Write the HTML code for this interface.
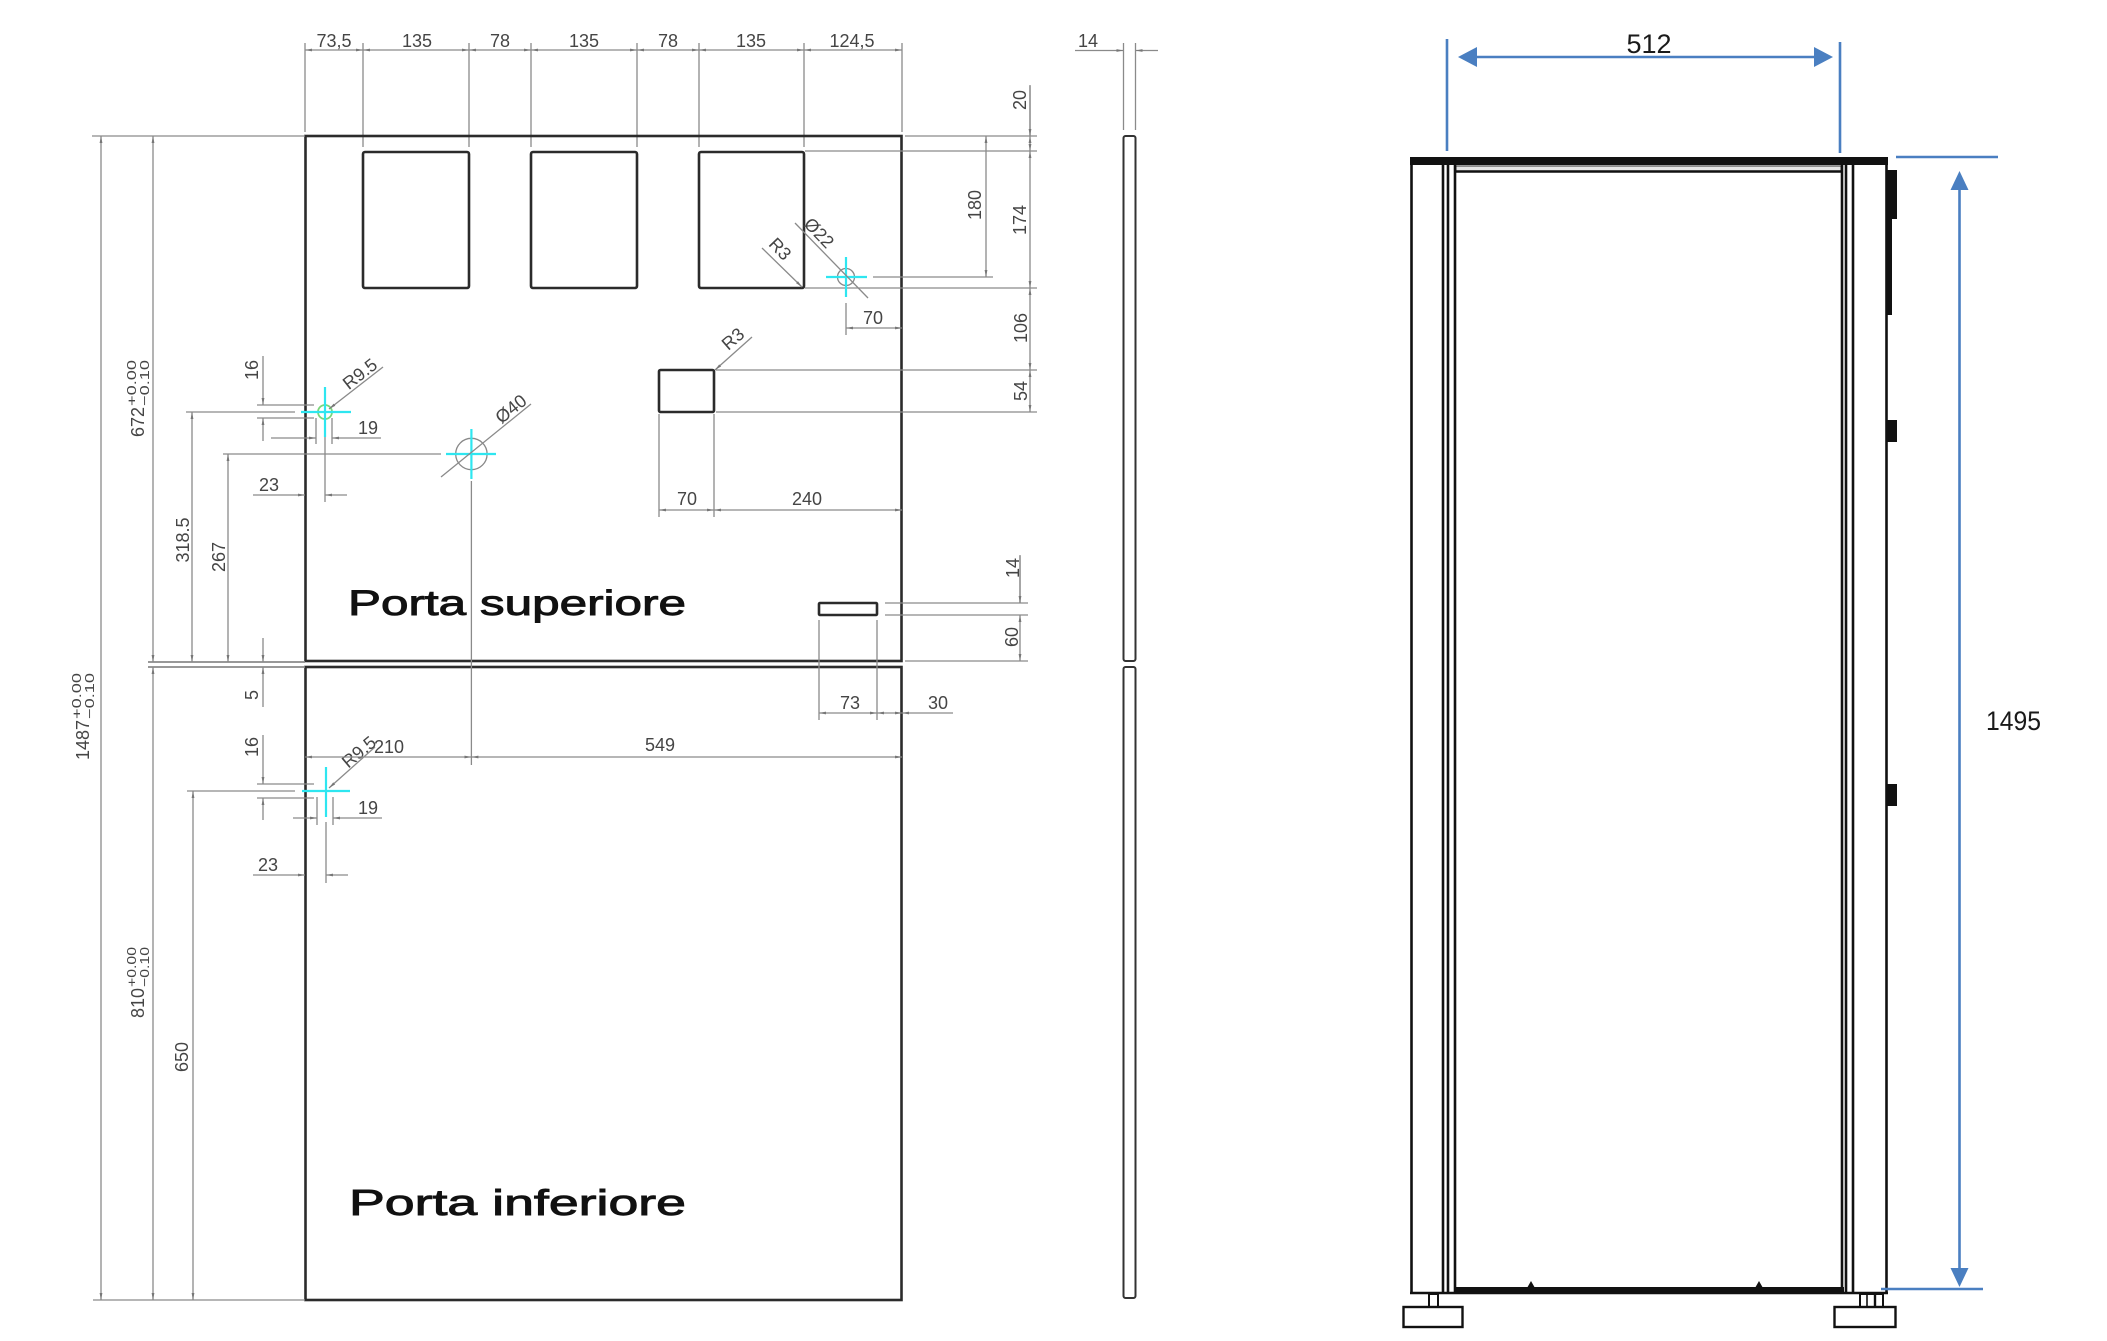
<!DOCTYPE html>
<html><head><meta charset="utf-8"><style>
html,body{margin:0;padding:0;background:#fff;}
svg{display:block;}
.d{stroke:#8a8a8a;stroke-width:1.3;fill:none;}
.dm{stroke:#8a8a8a;stroke-width:1.3;fill:none;marker-start:url(#a);marker-end:url(#a);}
.de{stroke:#8a8a8a;stroke-width:1.3;fill:none;marker-end:url(#a);}
.o{stroke:#2b2b2b;stroke-width:2.6;fill:none;}
.t{font-family:"Liberation Sans",sans-serif;font-size:18px;fill:#454545;}
.tt{font-family:"Liberation Sans",sans-serif;font-size:13px;fill:#454545;}
.c{stroke:#2ee6f0;stroke-width:2.2;fill:none;}
.k{stroke:#111;stroke-width:2.6;fill:none;}
.b{stroke:#4a7fc1;stroke-width:2.6;fill:none;}
.lab{font-family:"Liberation Sans",sans-serif;fill:#111;stroke:#111;stroke-width:0.9;}
</style></head><body>
<svg width="2107" height="1341" viewBox="0 0 2107 1341" xmlns="http://www.w3.org/2000/svg">
<defs>
<marker id="a" viewBox="0 0 10 4" refX="10" refY="2" markerWidth="7" markerHeight="3" markerUnits="userSpaceOnUse" orient="auto-start-reverse"><path d="M0,0L10,2L0,4z" fill="#777"/></marker>
</defs>
<rect width="2107" height="1341" fill="#fff"/>

<!-- ===== TOP CHAIN DIMENSIONS ===== -->
<g class="d">
<line x1="305" y1="43" x2="305" y2="132"/>
<line x1="363" y1="43" x2="363" y2="147"/>
<line x1="469" y1="43" x2="469" y2="147"/>
<line x1="531" y1="43" x2="531" y2="147"/>
<line x1="637" y1="43" x2="637" y2="147"/>
<line x1="699" y1="43" x2="699" y2="147"/>
<line x1="804" y1="43" x2="804" y2="147"/>
<line x1="902" y1="43" x2="902" y2="132"/>
</g>
<line class="dm" x1="305" y1="50" x2="363" y2="50"/>
<line class="dm" x1="363" y1="50" x2="469" y2="50"/>
<line class="dm" x1="469" y1="50" x2="531" y2="50"/>
<line class="dm" x1="531" y1="50" x2="637" y2="50"/>
<line class="dm" x1="637" y1="50" x2="699" y2="50"/>
<line class="dm" x1="699" y1="50" x2="804" y2="50"/>
<line class="dm" x1="804" y1="50" x2="902" y2="50"/>
<g class="t" text-anchor="middle">
<text x="334" y="47">73,5</text>
<text x="417" y="47">135</text>
<text x="500" y="47">78</text>
<text x="584" y="47">135</text>
<text x="668" y="47">78</text>
<text x="751" y="47">135</text>
<text x="852" y="47">124,5</text>
</g>

<!-- 14 side panel dim -->
<g class="d">
<line x1="1123.5" y1="43" x2="1123.5" y2="130"/>
<line x1="1135.5" y1="43" x2="1135.5" y2="130"/>
</g>
<line class="de" x1="1075" y1="50.5" x2="1123.5" y2="50.5"/>
<line class="de" x1="1158" y1="50.5" x2="1135.5" y2="50.5"/>
<text class="t" x="1088" y="47" text-anchor="middle">14</text>

<!-- ===== DOORS ===== -->
<rect class="o" x="305.5" y="136" width="596" height="525"/>
<rect class="o" x="305.5" y="667" width="596" height="633"/>
<rect class="o" x="363" y="152" width="106" height="136" rx="2"/>
<rect class="o" x="531" y="152" width="106" height="136" rx="2"/>
<rect class="o" x="699" y="152" width="105" height="136" rx="2"/>
<rect class="o" x="659" y="370" width="55" height="42" rx="1.5"/>
<rect class="o" x="819" y="603" width="58" height="12" rx="1"/>

<!-- side panel -->
<rect x="1123.5" y="136" width="12" height="525" rx="2" fill="none" stroke="#333" stroke-width="2"/>
<rect x="1123.5" y="667" width="12" height="631" rx="2" fill="none" stroke="#333" stroke-width="2"/>

<!-- ===== RIGHT DIMS OF UPPER DOOR ===== -->
<g class="d">
<line x1="905" y1="136" x2="1037" y2="136"/>
<line x1="805" y1="151" x2="1037" y2="151"/>
<line x1="805" y1="288" x2="1037" y2="288"/>
<line x1="716" y1="370" x2="1037" y2="370"/>
<line x1="716" y1="412" x2="1037" y2="412"/>
<line x1="873" y1="277" x2="993" y2="277"/>
<line x1="1030" y1="85" x2="1030" y2="136"/>
</g>
<line class="de" x1="1030" y1="86" x2="1030" y2="136"/>
<line class="dm" x1="1030" y1="136" x2="1030" y2="151"/>
<line class="dm" x1="1030" y1="151" x2="1030" y2="288"/>
<line class="dm" x1="1030" y1="288" x2="1030" y2="370"/>
<line class="dm" x1="1030" y1="370" x2="1030" y2="412"/>
<line class="dm" x1="986" y1="136" x2="986" y2="277"/>
<g class="t" text-anchor="middle">
<text transform="translate(1020,100) rotate(-90)" dy="6">20</text>
<text transform="translate(1020,220) rotate(-90)" dy="6">174</text>
<text transform="translate(975,205) rotate(-90)" dy="6">180</text>
<text transform="translate(1021,328) rotate(-90)" dy="6">106</text>
<text transform="translate(1021,391) rotate(-90)" dy="6">54</text>
</g>

<!-- hole Ø22 -->
<circle cx="846" cy="277" r="8.5" fill="none" stroke="#888" stroke-width="1.3"/>
<line class="c" x1="826" y1="277" x2="867" y2="277"/>
<line class="c" x1="846" y1="257" x2="846" y2="297"/>
<line class="d" x1="795" y1="223" x2="868" y2="298"/>
<text class="t" text-anchor="middle" transform="translate(819,233) rotate(46)" dy="6">Ø22</text>
<line class="de" x1="762" y1="248" x2="802" y2="287"/>
<text class="t" text-anchor="middle" transform="translate(780,249) rotate(46)" dy="6">R3</text>

<!-- 70 hole dim -->
<line class="d" x1="846" y1="303" x2="846" y2="335"/>
<line class="dm" x1="846" y1="328" x2="902" y2="328"/>
<text class="t" x="873" y="324" text-anchor="middle">70</text>

<!-- R3 rect leader -->
<line class="de" x1="752" y1="337" x2="715" y2="370"/>
<text class="t" text-anchor="middle" transform="translate(733,339) rotate(-41)" dy="6">R3</text>

<!-- 70 / 240 -->
<line class="d" x1="659" y1="414" x2="659" y2="517"/>
<line class="d" x1="714" y1="414" x2="714" y2="517"/>
<line class="dm" x1="659" y1="510" x2="714" y2="510"/>
<line class="dm" x1="714" y1="510" x2="902" y2="510"/>
<text class="t" x="687" y="505" text-anchor="middle">70</text>
<text class="t" x="807" y="505" text-anchor="middle">240</text>

<!-- handle dims 14 / 60 -->
<g class="d">
<line x1="885" y1="603" x2="1028" y2="603"/>
<line x1="885" y1="615" x2="1028" y2="615"/>
<line x1="905" y1="661" x2="1028" y2="661"/>
<line x1="1020" y1="555" x2="1020" y2="603"/>
</g>
<line class="de" x1="1020" y1="556" x2="1020" y2="603"/>
<line class="dm" x1="1020" y1="615" x2="1020" y2="661"/>
<text class="t" text-anchor="middle" transform="translate(1013,568) rotate(-90)" dy="6">14</text>
<text class="t" text-anchor="middle" transform="translate(1012,637) rotate(-90)" dy="6">60</text>

<!-- 73 / 30 -->
<line class="d" x1="819" y1="620" x2="819" y2="720"/>
<line class="d" x1="877" y1="620" x2="877" y2="720"/>
<line class="dm" x1="819" y1="713" x2="877" y2="713"/>
<line class="dm" x1="877" y1="713" x2="902" y2="713"/>
<line class="de" x1="953" y1="713" x2="902" y2="713"/>
<text class="t" x="850" y="709" text-anchor="middle">73</text>
<text class="t" x="938" y="709" text-anchor="middle">30</text>

<!-- ===== LEFT DIMENSIONS ===== -->
<g class="d">
<line x1="92" y1="136" x2="305" y2="136"/>
<line x1="148" y1="662" x2="305" y2="662" stroke-width="1.8"/>
<line x1="148" y1="667" x2="305" y2="667" stroke-width="1.8"/>
<line x1="93" y1="1300" x2="305" y2="1300"/>
<line x1="186" y1="412" x2="295" y2="412"/>
<line x1="223" y1="454" x2="441" y2="454"/>
<line x1="187" y1="791" x2="295" y2="791"/>
</g>
<line class="dm" x1="101" y1="136" x2="101" y2="1300"/>
<line class="dm" x1="153" y1="136" x2="153" y2="662"/>
<line class="dm" x1="153" y1="667" x2="153" y2="1300"/>
<line class="dm" x1="192" y1="412" x2="192" y2="662"/>
<line class="dm" x1="228" y1="454" x2="228" y2="662"/>
<line class="dm" x1="193" y1="791" x2="193" y2="1300"/>

<g class="t">
<text transform="translate(82,760) rotate(-90)" dy="7" textLength="40" lengthAdjust="spacingAndGlyphs">1487</text>
<text transform="translate(137,437) rotate(-90)" dy="7" textLength="30" lengthAdjust="spacingAndGlyphs">672</text>
<text transform="translate(137,1018) rotate(-90)" dy="7" textLength="30" lengthAdjust="spacingAndGlyphs">810</text>
</g>
<g class="tt">
<text transform="translate(82,719) rotate(-90)" dy="-1" textLength="46" lengthAdjust="spacingAndGlyphs">+0.00</text>
<text transform="translate(82,719) rotate(-90)" dy="12" textLength="46" lengthAdjust="spacingAndGlyphs">−0.10</text>
<text transform="translate(137,406) rotate(-90)" dy="-1" textLength="46" lengthAdjust="spacingAndGlyphs">+0.00</text>
<text transform="translate(137,406) rotate(-90)" dy="12" textLength="46" lengthAdjust="spacingAndGlyphs">−0.10</text>
<text transform="translate(137,987) rotate(-90)" dy="-1" textLength="40" lengthAdjust="spacingAndGlyphs">+0.00</text>
<text transform="translate(137,987) rotate(-90)" dy="12" textLength="40" lengthAdjust="spacingAndGlyphs">−0.10</text>
</g>
<g class="t" text-anchor="middle">
<text transform="translate(183,540) rotate(-90)" dy="6">318.5</text>
<text transform="translate(219,557) rotate(-90)" dy="6">267</text>
<text transform="translate(182,1057) rotate(-90)" dy="6">650</text>
</g>

<!-- 5 dim -->
<line class="de" x1="263" y1="638" x2="263" y2="662"/>
<line class="de" x1="263" y1="707" x2="263" y2="667"/>
<text class="t" text-anchor="middle" transform="translate(252,695) rotate(-90)" dy="6">5</text>

<!-- upper hinge -->
<g class="d">
<line x1="257" y1="405" x2="314" y2="405"/>
<line x1="257" y1="418" x2="314" y2="418"/>
<line x1="316" y1="418" x2="316" y2="444"/>
<line x1="332" y1="418" x2="332" y2="444"/>
<line x1="325" y1="437" x2="325" y2="502"/>
</g>
<line class="de" x1="263" y1="356" x2="263" y2="405"/>
<line class="de" x1="263" y1="441" x2="263" y2="418"/>
<text class="t" text-anchor="middle" transform="translate(252,370) rotate(-90)" dy="6">16</text>
<line class="de" x1="271" y1="438" x2="316" y2="438"/>
<line class="de" x1="381" y1="438" x2="332" y2="438"/>
<text class="t" x="368" y="434" text-anchor="middle">19</text>
<line class="de" x1="253" y1="495" x2="305" y2="495"/>
<line class="de" x1="347" y1="495" x2="325" y2="495"/>
<text class="t" x="269" y="491" text-anchor="middle">23</text>
<circle cx="325" cy="412" r="7" fill="none" stroke="#7ad67a" stroke-width="1.8"/>
<line class="c" x1="301" y1="412" x2="351" y2="412"/>
<line class="c" x1="325" y1="387" x2="325" y2="437"/>
<line class="de" x1="383" y1="367" x2="329" y2="409"/>
<text class="t" text-anchor="middle" transform="translate(360,374) rotate(-38)" dy="6">R9.5</text>

<!-- Ø40 -->
<circle cx="471.4" cy="454" r="15.7" fill="none" stroke="#888" stroke-width="1.3"/>
<line class="c" x1="446" y1="454" x2="496" y2="454"/>
<line class="c" x1="471.4" y1="429" x2="471.4" y2="479"/>
<line class="d" x1="471.4" y1="481" x2="471.4" y2="765"/>
<line class="d" x1="441" y1="477" x2="531" y2="404"/>
<text class="t" text-anchor="middle" transform="translate(511,409) rotate(-39)" dy="6">Ø40</text>

<!-- lower hinge -->
<g class="d">
<line x1="257" y1="784" x2="314" y2="784"/>
<line x1="257" y1="798" x2="314" y2="798"/>
<line x1="317" y1="797" x2="317" y2="825"/>
<line x1="333" y1="797" x2="333" y2="825"/>
<line x1="326" y1="822" x2="326" y2="883"/>
</g>
<line class="de" x1="263" y1="735" x2="263" y2="784"/>
<line class="de" x1="263" y1="820" x2="263" y2="798"/>
<text class="t" text-anchor="middle" transform="translate(252,747) rotate(-90)" dy="6">16</text>
<line class="de" x1="293" y1="818" x2="317" y2="818"/>
<line class="de" x1="382" y1="818" x2="333" y2="818"/>
<text class="t" x="368" y="814" text-anchor="middle">19</text>
<line class="de" x1="253" y1="875" x2="305" y2="875"/>
<line class="de" x1="348" y1="875" x2="326" y2="875"/>
<text class="t" x="268" y="871" text-anchor="middle">23</text>
<line class="c" x1="302" y1="791" x2="350" y2="791"/>
<line class="c" x1="326" y1="767" x2="326" y2="817"/>
<line class="de" x1="375" y1="747" x2="329" y2="788"/>
<text class="t" text-anchor="middle" transform="translate(359,752) rotate(-40)" dy="6">R9.5</text>

<!-- 210 / 549 -->
<line class="dm" x1="305" y1="757" x2="471.4" y2="757"/>
<line class="dm" x1="471.4" y1="757" x2="902" y2="757"/>
<text class="t" x="389" y="753" text-anchor="middle">210</text>
<text class="t" x="660" y="751" text-anchor="middle">549</text>

<!-- door labels -->
<text class="lab" x="348" y="615" font-size="35" textLength="338" lengthAdjust="spacingAndGlyphs">Porta superiore</text>
<text class="lab" x="349" y="1215" font-size="36" textLength="337" lengthAdjust="spacingAndGlyphs">Porta inferiore</text>

<!-- ===== RIGHT CABINET ===== -->
<rect x="1410" y="157" width="478" height="8" fill="#111"/>
<rect x="1456" y="166" width="385" height="6" fill="#e6e6e6" stroke="#333" stroke-width="1"/>
<line class="k" x1="1456" y1="171.5" x2="1841" y2="171.5" stroke-width="2"/>
<line class="k" x1="1411.5" y1="158" x2="1411.5" y2="1294"/>
<line class="k" x1="1443" y1="165" x2="1443" y2="1292"/>
<line class="k" x1="1448" y1="165" x2="1448" y2="1292" stroke-width="1.4"/>
<line class="k" x1="1455" y1="165" x2="1455" y2="1292"/>
<line class="k" x1="1842" y1="165" x2="1842" y2="1292"/>
<line class="k" x1="1846" y1="165" x2="1846" y2="1292" stroke-width="1.4"/>
<line class="k" x1="1853" y1="165" x2="1853" y2="1292"/>
<line class="k" x1="1886.5" y1="158" x2="1886.5" y2="1294"/>
<rect x="1454" y="1287" width="390" height="6" fill="#111"/>
<line class="k" x1="1410" y1="1293" x2="1888" y2="1293"/>
<path d="M1527,1288 L1531,1281 L1535,1288 Z M1755,1288 L1759,1281 L1763,1288 Z" fill="#111"/>
<rect x="1429" y="1294" width="9" height="13" fill="none" stroke="#111" stroke-width="2"/>
<rect x="1403.5" y="1307" width="59" height="20" fill="none" stroke="#111" stroke-width="2.4"/>
<rect x="1860" y="1294" width="23" height="13" fill="none" stroke="#111" stroke-width="2"/>
<line x1="1867" y1="1294" x2="1867" y2="1307" stroke="#111" stroke-width="1.6"/>
<line x1="1875" y1="1294" x2="1875" y2="1307" stroke="#111" stroke-width="2.4"/>
<rect x="1834.5" y="1307" width="61" height="20" fill="none" stroke="#111" stroke-width="2.4"/>
<rect x="1887" y="170" width="10" height="49" fill="#111"/>
<rect x="1887" y="219" width="5" height="96" fill="#111"/>
<rect x="1887" y="420" width="10" height="22" fill="#111"/>
<rect x="1887" y="784" width="10" height="22" fill="#111"/>

<!-- blue dims -->
<line class="b" x1="1447" y1="39" x2="1447" y2="151"/>
<line class="b" x1="1840" y1="42" x2="1840" y2="153"/>
<line class="b" x1="1470" y1="57" x2="1822" y2="57"/>
<path d="M1458,57 L1477,47 L1477,67 Z" fill="#4a7fc1"/>
<path d="M1833,57 L1814,47 L1814,67 Z" fill="#4a7fc1"/>
<text x="1649" y="53" font-family="Liberation Sans, sans-serif" font-size="27" fill="#1a1a1a" text-anchor="middle">512</text>

<line class="b" x1="1896" y1="157" x2="1998" y2="157" stroke-width="2.2"/>
<line class="b" x1="1881" y1="1289" x2="1983" y2="1289" stroke-width="2.2"/>
<line class="b" x1="1959.5" y1="185" x2="1959.5" y2="1272"/>
<path d="M1959.5,171 L1950.5,190 L1968.5,190 Z" fill="#4a7fc1"/>
<path d="M1959.5,1287 L1950.5,1268 L1968.5,1268 Z" fill="#4a7fc1"/>
<text x="1986" y="730" font-family="Liberation Sans, sans-serif" font-size="27" fill="#1a1a1a" textLength="55" lengthAdjust="spacingAndGlyphs">1495</text>
</svg>
</body></html>
